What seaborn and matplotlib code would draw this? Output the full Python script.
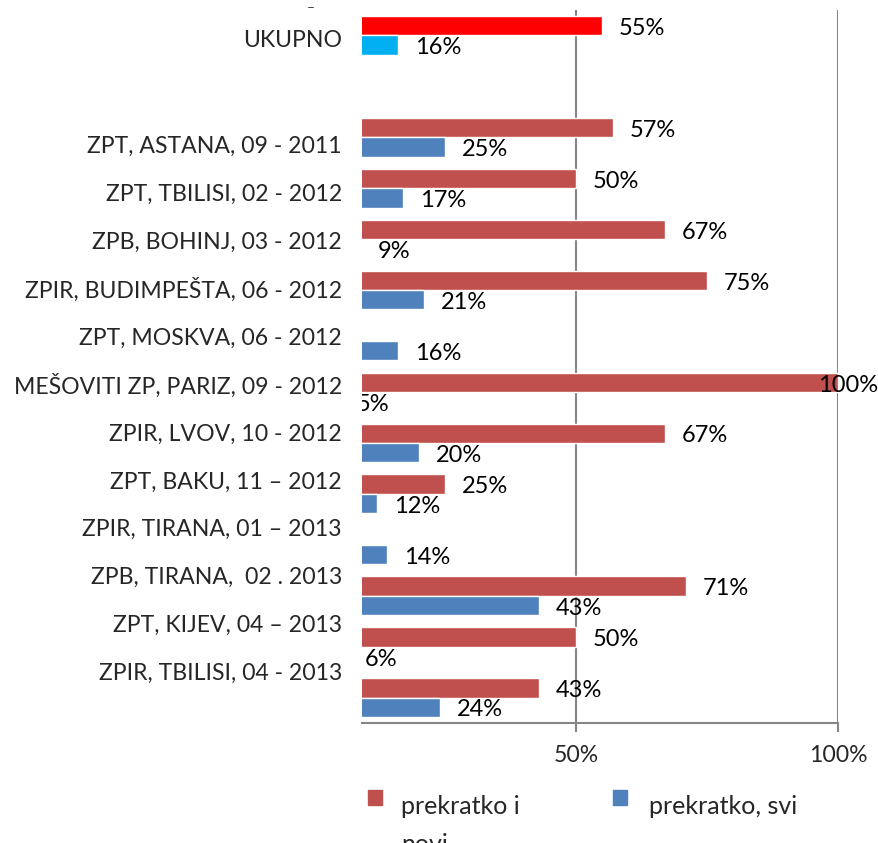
import numpy as np
import pandas as pd
import matplotlib
matplotlib.use("Agg")
import matplotlib.pyplot as plt
import seaborn as sns
from matplotlib.patches import Rectangle

categories = [
    "UKUPNO",
    " ",
    "ZPT, ASTANA, 09 - 2011",
    "ZPT, TBILISI, 02 - 2012",
    "ZPB, BOHINJ, 03 - 2012",
    "ZPIR, BUDIMPEŠTA, 06 - 2012",
    "ZPT, MOSKVA, 06 - 2012",
    "MEŠOVITI ZP, PARIZ, 09 - 2012",
    "ZPIR, LVOV, 10 - 2012",
    "ZPT, BAKU, 11 – 2012",
    "ZPIR, TIRANA, 01 – 2013",
    "ZPB, TIRANA,  02 . 2013",
    "ZPT, KIJEV, 04 – 2013",
    "ZPIR, TBILISI, 04 - 2013",
]
prekratko_novi = [0.55, np.nan, 0.57, 0.50, 0.67, 0.75, 0.0, 1.00, 0.67, 0.25, 0.0, 0.71, 0.50, 0.43]
prekratko_svi = [0.16, np.nan, 0.25, 0.17, 0.09, 0.21, 0.16, 0.05, 0.20, 0.12, 0.14, 0.43, 0.064, 0.24]
series_names = ["prekratko i novi", "prekratko, svi"]
series_colors = ["#C0504D", "#4F81BD"]
total_colors = ["#FF0000", "#00B0F0"]

df = pd.DataFrame({
    "kategorija": categories * 2,
    "udio": prekratko_novi + prekratko_svi,
    "serija": [series_names[0]] * len(categories) + [series_names[1]] * len(categories),
})

sns.set_theme(style="white")
plt.rcParams["font.family"] = ["Lato", "DejaVu Sans"]
fs = 16.6

fig = plt.figure(figsize=(8.79, 8.43), dpi=100)
ax = fig.add_axes([362 / 879, 1 - 723 / 843, 476 / 879, 713 / 843])

sns.barplot(data=df, y="kategorija", x="udio", hue="serija", order=categories,
            hue_order=series_names, palette=series_colors, width=0.76, orient="h",
            errorbar=None, saturation=1, legend=False, ax=ax)

xmin = 0.092
ax.set_xlim(xmin, 1.0)
ax.set_ylim(13.5, -0.5)

# UKUPNO bars get their own colours, then value labels
for c, container in enumerate(ax.containers):
    for bar in container:
        w = bar.get_width()
        if np.isnan(w):
            continue
        yc = bar.get_y() + bar.get_height() / 2
        if abs(yc) < 0.5:
            bar.set_facecolor(total_colors[c])
        dx = -14.5 if w >= 1 else 12.2
        t = ax.annotate(f"{w:.0%}", (w, yc), xytext=(dx, -2), textcoords="offset points",
                        ha="left", va="center", fontsize=17, color="black",
                        annotation_clip=False)
        if w < xmin:
            t.set_clip_box(ax.bbox)
            t.set_clip_on(True)

ax.set_xticks([0.5, 1.0])
ax.set_xticklabels(["50%", "100%"], fontsize=fs)
ax.xaxis.grid(True, color="#868686", lw=1.5)
ax.tick_params(axis="x", bottom=True, length=6.5, width=1.5, color="#868686", pad=9)

label_pos = [0.06] + [2.14 + 0.941 * k for k in range(12)]
ax.set_yticks(label_pos)
ax.set_yticklabels([c for c in categories if c.strip()], fontsize=fs)
ax.tick_params(axis="y", length=0, pad=14.4)
ax.set_xlabel("")
ax.set_ylabel("")

for s in ["top", "right", "left"]:
    ax.spines[s].set_visible(False)
ax.spines["bottom"].set_color("#868686")
ax.spines["bottom"].set_linewidth(1.5)

# legend below the plot
lfs = 18
for x0, col in [(368, series_colors[0]), (613, series_colors[1])]:
    fig.patches.append(Rectangle((x0 / 879, 1 - 805 / 843), 14 / 879, 15 / 843,
                                 transform=fig.transFigure, color=col, figure=fig))
fig.text(401 / 879, 1 - 814 / 843, "prekratko i", fontsize=lfs, va="baseline")
fig.text(401 / 879, 1 - 852 / 843, "novi", fontsize=lfs, va="baseline")
fig.text(649 / 879, 1 - 814 / 843, "prekratko, svi", fontsize=lfs, va="baseline")
fig.text(311 / 879, 1 - 8 / 843, "–", fontsize=10, color="#404040", ha="center", va="center")

fig.savefig("out.png", dpi=100)
